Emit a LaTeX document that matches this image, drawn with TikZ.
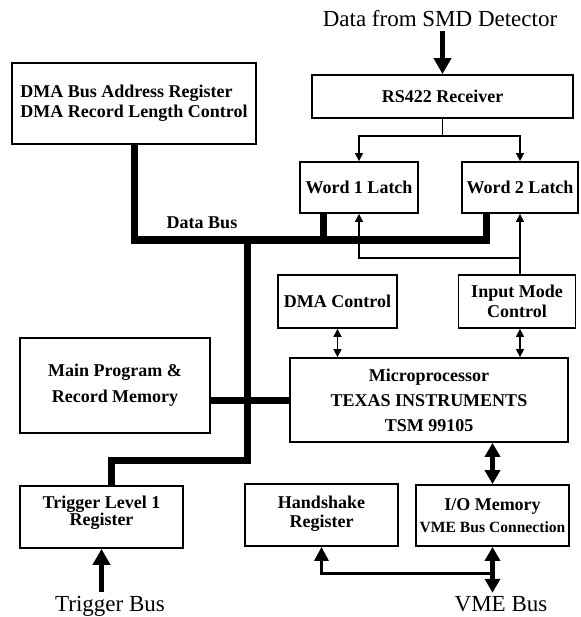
\documentclass[tikz,border=0pt]{standalone}
\usepackage{fontspec}
\setmainfont{Liberation Serif}
\usetikzlibrary{positioning,arrows.meta}
\tikzset{
blk/.style={draw, line width=1.8pt, inner sep=0pt, align=center, font=\bfseries\fontsize{18}{20}\selectfont},
bus/.style={line width=7pt, line join=miter},
sig/.style={line width=1.5pt, -{Triangle[length=8pt,width=8pt]}},
dsig/.style={line width=1.5pt, {Triangle[length=8pt,width=8pt]}-{Triangle[length=8pt,width=8pt]}},
fat/.style={line width=4.5pt, {Triangle[length=14pt,width=15pt]}-{Triangle[length=14pt,width=15pt]}},
fatin/.style={line width=5pt, -{Triangle[length=16pt,width=17pt]}},
lbl/.style={font=\fontsize{23}{26}\selectfont}
}

\begin{document}
\begin{tikzpicture}[x=1pt,y=-1pt]
	\useasboundingbox (0,0) rectangle (580,617);
	% boxes
	\node[blk, minimum width=244pt, minimum height=81pt, align=left] (dma) at (134,103.5) {DMA Bus Address Register\\DMA Record Length Control};
	\node[blk, minimum width=261pt, minimum height=43pt] (rs) at (442.5,96.5) {RS422 Receiver};
	\node[blk, minimum width=118pt, minimum height=51pt] (wa) at (359,187.5) {Word 1 Latch};
	\node[blk, minimum width=116pt, minimum height=51pt] (wb) at (520,187.5) {Word 2 Latch};
	\node[blk, minimum width=119pt, minimum height=53pt] (dmac) at (337.5,301.5) {DMA Control};
	\node[blk, minimum width=117pt, minimum height=53pt] (imc) at (517,301.5) {Input Mode\\Control};
	\node[blk, minimum width=190pt, minimum height=95pt] (mpm) at (115,385.5) {Main Program \&\\[6pt]Record Memory};
	\node[blk, minimum width=278pt, minimum height=84pt] (up) at (429,400) {Microprocessor\\[5pt]TEXAS INSTRUMENTS\\[5pt]TSM 99105};
	\node[blk, minimum width=163pt, minimum height=62pt, font=\bfseries\fontsize{18}{17}\selectfont] (trig) at (101.5,517) {Trigger Level 1\\Register\\[-5pt]};
	\node[blk, minimum width=153pt, minimum height=62pt, font=\bfseries\fontsize{18}{19}\selectfont] (hs) at (321.5,515) {Handshake\\Register\\[-13pt]};
	\node[blk, minimum width=153pt, minimum height=61pt] (io) at (492.5,515.5) {I/O Memory\\[2pt]{\fontsize{15.6}{18}\selectfont VME Bus Connection}};
	% labels
	\node[lbl] (smd) at (440,19) {Data from SMD Detector};
	\node[lbl] (tbl) at (110,606) {Trigger Bus};
	\node[lbl] (vmel) at (501,604) {VME Bus};
	\node[font=\bfseries\fontsize{18}{20}\selectfont] (dbl) at (202,223) {Data Bus};
	% data bus
	\draw[bus] (dma.south) |- (486,240) -- (486,240 |- wb.south);
	\draw[bus] (323,240) -- (323,240 |- wa.south);
	\draw[bus] (247,240) |- (111,460) -- (111,460 |- trig.north);
	\draw[bus] (mpm.east |- up.west) -- (up.west);
	% signals
	\draw[fatin] (rs.north |- smd.south) -- (rs.north);
	\draw[sig] (rs.south) -- ++(0,17) -| (wa.north);
	\draw[sig] (rs.south) -- ++(0,17) -| (wb.north);
	\draw[sig] (wb.south |- imc.north) -- (wb.south);
	\draw[sig] (wb.south |- 0,258) -| (wa.south);
	\draw[dsig] (dmac.south) -- (dmac.south |- up.north);
	\draw[dsig] (wb.south |- imc.south) -- (wb.south |- up.north);
	\draw[fat] (io.north |- up.south) -- (io.north);
	\draw[fat] (io.south) -- (io.south |- vmel.north);
	\draw[line width=3pt, -{Triangle[length=14pt,width=14pt]}] (io.south |- 0,573) -| (hs.south);
	\draw[fatin] (trig.south |- tbl.north) -- (trig.south);
\end{tikzpicture}
\end{document}
